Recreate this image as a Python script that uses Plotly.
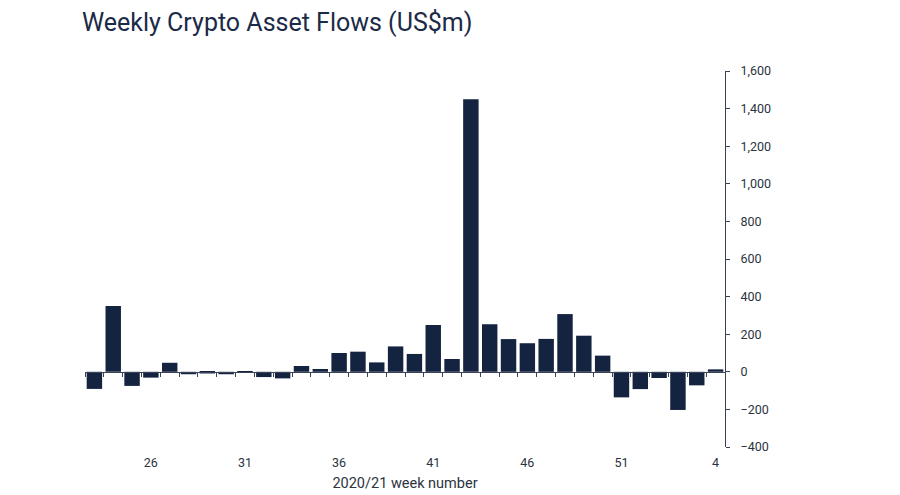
import plotly.graph_objects as go

weeks = [str(w) for w in range(23, 53)] + ["1", "2", "3", "4"]
flows = [-91, 350, -75, -31, 48, -13, -9, -13, -5, -28,
         -35, 31, 15, 100, 107, 50, 135, 95, 249, 68,
         1450, 253, 174, 152, 175, 307, 192, 86, -136, -92,
         -33, -203, -72, 13]
tick_labels = ["26", "31", "36", "41", "46", "51", "4"]
y_ticks = list(range(-400, 1601, 200))

navy = "#14233f"
txt = "#2b3340"
fnt = "Roboto"

fig = go.Figure()
fig.add_trace(go.Bar(x=weeks, y=flows, marker=dict(color=navy, line=dict(width=0)),
                     xaxis="x", yaxis="y", showlegend=False))
fig.add_trace(go.Scatter(x=weeks, y=flows, mode="markers", marker=dict(opacity=0),
                         xaxis="x2", yaxis="y", showlegend=False, hoverinfo="skip"))

fig.update_layout(
    width=900, height=495,
    margin=dict(l=85, r=175, t=71, b=48),
    paper_bgcolor="white", plot_bgcolor="white",
    bargap=0.18,
    font=dict(family=fnt, color=txt, size=12),
    title=dict(text="Weekly Crypto Asset Flows (US$m)", x=82/900, xanchor="left",
               y=1 - 22/495, yanchor="middle",
               font=dict(family=fnt, size=25, color="#1b2a47")),
    xaxis=dict(type="category", categoryorder="array", categoryarray=weeks,
               range=[-0.5, len(weeks) - 0.5],
               showticklabels=False, ticks="outside", tickson="boundaries",
               ticklen=4, tickcolor="#3a4256", showline=True, linecolor="#3a4256",
               linewidth=1, showgrid=False, zeroline=False,
               anchor="free", position=0.2, automargin=False),
    xaxis2=dict(type="category", overlaying="x", matches="x", side="bottom",
                anchor="y", showline=False, ticks="", showgrid=False, zeroline=False,
                tickmode="array", tickvals=tick_labels, ticktext=tick_labels,
                tickfont=dict(size=12.5, color=txt), ticklabelstandoff=6,
                automargin=False,
                title=dict(text="2020/21 week number", font=dict(size=14.5, color=txt),
                           standoff=9)),
    yaxis=dict(side="right", range=[-400, 1600], tickvals=y_ticks, tickformat=",",
               showline=True, linecolor="#3a4256", linewidth=1, ticks="outside",
               ticklen=4, tickcolor="#3a4256", showgrid=False, zeroline=False,
               tickfont=dict(size=12.5, color=txt), ticklabelstandoff=8,
               automargin=False),
)

fig.write_html("out.html", config={"displayModeBar": False},
               post_script="document.body.style.margin='0';")
